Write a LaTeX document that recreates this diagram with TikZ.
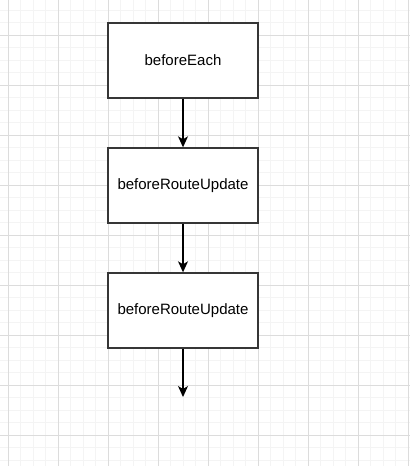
\documentclass[tikz,border=0pt]{standalone}
\usepackage{fontspec}
\setmainfont{Liberation Sans}
\usetikzlibrary{arrows.meta}
\definecolor{minorgrid}{HTML}{F4F4F4}
\definecolor{majorgrid}{HTML}{DCDCDC}
\definecolor{boxline}{HTML}{363636}
\tikzset{
  minorline/.style={draw=minorgrid, line width=1pt},
  majorline/.style={draw=majorgrid, line width=1pt},
  stepbox/.style={draw=boxline, line width=1.4pt, fill=white, minimum width=150pt, minimum height=75pt, inner sep=0pt, font=\fontsize{15}{18}\selectfont},
  flow/.style={draw=black, line width=1.3pt, -{Stealth[length=11pt,width=10pt,inset=3pt]}}
}
\begin{document}
\begin{tikzpicture}[x=1pt,y=-1pt]
\useasboundingbox (0,0) rectangle (410,466);
\fill[white] (0,0) rectangle (410,466);
\foreach \i in {0,...,33} \draw[minorline] ({-4.5+12.5*\i},0) -- ({-4.5+12.5*\i},466);
\foreach \j in {0,...,37} \draw[minorline] (0,{-2.5+12.5*\j}) -- (410,{-2.5+12.5*\j});
\foreach \k in {0,...,8} \draw[majorline] ({8+50*\k},0) -- ({8+50*\k},466);
\foreach \k in {0,...,8} \draw[majorline] (0,{35+50*\k}) -- (410,{35+50*\k});
\node[stepbox] (a) at (183,60.5) {beforeEach};
\node[stepbox] (b) at (183,185.5) {beforeRouteUpdate};
\node[stepbox] (c) at (183,310.5) {beforeRouteUpdate};
\coordinate (end) at (183,397);
\draw[flow] (a) -- (b);
\draw[flow] (b) -- (c);
\draw[flow] (c) -- (end);
\end{tikzpicture}
\end{document}
